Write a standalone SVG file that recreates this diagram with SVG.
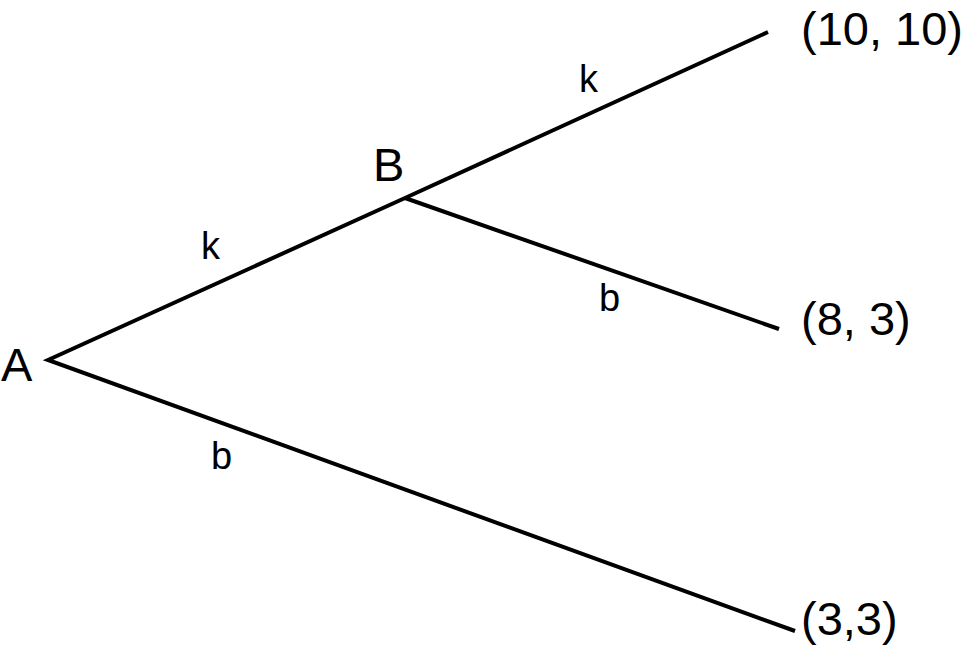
<svg xmlns="http://www.w3.org/2000/svg" width="972" height="667" viewBox="0 0 972 667">
<style>
.edge{stroke:#000;stroke-width:4;fill:none;stroke-linecap:butt}
.big{font-family:"Liberation Sans",Arial,sans-serif;font-size:47px;fill:#000}
.lbl{font-family:"Liberation Sans",Arial,sans-serif;font-size:38px;fill:#000}
</style>
<rect width="972" height="667" fill="#fff"/>
<g id="connectors">
<polyline class="edge" points="768,32 405,198 48,360 795,631"/>
<line class="edge" x1="405" y1="198" x2="779" y2="329"/>
<text class="lbl" x="201" y="259">k</text>
<text class="lbl" x="579" y="92">k</text>
<text class="lbl" x="599" y="311">b</text>
<text class="lbl" x="211" y="469">b</text>
</g>
<g id="node-A"><text class="big" x="1" y="381">A</text></g>
<g id="node-B"><text class="big" x="373" y="181">B</text></g>
<g id="leaf-1"><text class="big" x="801" y="45">(10, 10)</text></g>
<g id="leaf-2"><text class="big" x="801" y="335">(8, 3)</text></g>
<g id="leaf-3"><text class="big" x="801" y="635">(3,3)</text></g>
</svg>
